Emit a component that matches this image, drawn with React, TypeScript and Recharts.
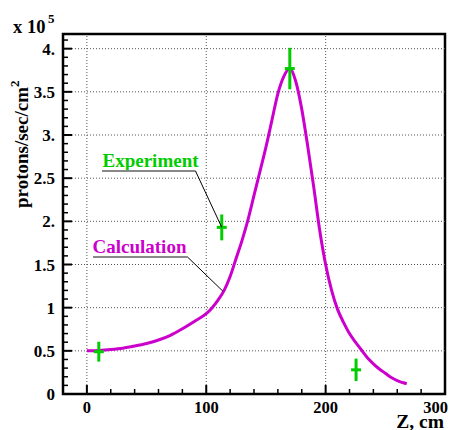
import { ComposedChart, Line, Scatter, ErrorBar, XAxis, YAxis, ReferenceLine, ReferenceArea } from 'recharts';

// calculated flux along Z (x 10^5 protons/sec/cm^2)
const calcZ = [0, 10, 20, 30, 40, 50, 60, 70, 80, 90, 100, 105, 110, 115, 120, 125, 130, 135, 140, 145, 150, 155, 160, 165, 170, 175, 180, 185, 190, 195, 200, 205, 210, 215, 220, 225, 230, 235, 240, 245, 250, 255, 260, 265, 268];
const calcFlux = [0.5, 0.505, 0.515, 0.53, 0.555, 0.585, 0.625, 0.68, 0.755, 0.84, 0.93, 1.0, 1.09, 1.2, 1.36, 1.57, 1.78, 2.02, 2.3, 2.58, 2.86, 3.17, 3.48, 3.68, 3.77, 3.62, 3.3, 2.87, 2.4, 1.9, 1.5, 1.2, 0.98, 0.83, 0.7, 0.6, 0.51, 0.42, 0.35, 0.29, 0.24, 0.19, 0.155, 0.13, 0.12];

// measured points
const expZ = [10, 113, 170, 225.5];
const expFlux = [0.49, 1.93, 3.77, 0.28];
const expErr = [0.115, 0.15, 0.24, 0.13];

const xMajorTicks = [0, 100, 200, 300];
const xTickLabels = ['0', '100', '200', '300'];
const yMajorTicks = [0, 0.5, 1, 1.5, 2, 2.5, 3, 3.5, 4];
const yTickLabels = ['0', '0.5', '1', '1.5', '2.', '2.5', '3.', '3.5', '4.'];
const xGrid = [0, 100, 200];
const yGrid = [0.5, 1, 1.5, 2, 2.5, 3, 3.5, 4];

const X_DOMAIN = [-20, 300];
const Y_DOMAIN = [0, 4.17];

const W = 456;
const H = 430;
const LEFT = 63;
const RIGHT = 11;
const TOP = 34;
const BOTTOM = 36;

const calcData = calcZ.map((z, i) => ({ z, flux: calcFlux[i] }));
const expData = expZ.map((z, i) => ({ z, flux: expFlux[i], err: expErr[i] }));

const xTicks = [...Array.from({ length: 15 }, (_, i) => i * 20), 300];
const yTicks = Array.from({ length: 42 }, (_, i) => i / 10);

const serif = { fontFamily: "'Liberation Serif', Tinos, 'Times New Roman', Times, serif", fontWeight: 700 };
const GREEN = '#00cc00';
const MAGENTA = '#cc00cc';

// pixel helpers for the annotations overlay
const px = (z: number) => LEFT + ((z - X_DOMAIN[0]) / (X_DOMAIN[1] - X_DOMAIN[0])) * (W - LEFT - RIGHT);
const py = (v: number) => TOP + (1 - (v - Y_DOMAIN[0]) / (Y_DOMAIN[1] - Y_DOMAIN[0])) * (H - TOP - BOTTOM);

function XTick(props: any) {
    const { x, y, payload } = props;
    const v = payload.value;
    const idx = xMajorTicks.indexOf(v);
    const major = idx >= 0;
    return (
        <g>
            {v < 300 && (
                <line x1={x} x2={x} y1={y} y2={y - (major ? 9 : 5)} stroke="#000" strokeWidth={major ? 2 : 1.5} />
            )}
            {major && (
                <text
                    x={v === 300 ? x + 3 : x}
                    y={y + 19}
                    textAnchor={v === 300 ? 'end' : 'middle'}
                    style={serif}
                    fontSize={16.5}
                    fill="#000"
                >
                    {xTickLabels[idx]}
                </text>
            )}
        </g>
    );
}

function YTick(props: any) {
    const { x, y, payload } = props;
    const v = payload.value;
    const idx = yMajorTicks.indexOf(v);
    const major = idx >= 0;
    return (
        <g>
            <line x1={x} x2={x + (major ? 9 : 5)} y1={y} y2={y} stroke="#000" strokeWidth={major ? 2 : 1.5} />
            {major && (
                <text x={x - 8} y={y + 6} textAnchor="end" style={serif} fontSize={17} fill="#000">
                    {yTickLabels[idx]}
                </text>
            )}
        </g>
    );
}

function ExpMarker(props: any) {
    const { cx, cy } = props;
    return <line x1={cx - 5} x2={cx + 5} y1={cy} y2={cy} stroke={GREEN} strokeWidth={3} />;
}

export default function App() {
    return (
        <div style={{ position: 'absolute', left: 0, top: 0, width: W, height: H, background: '#fff' }}>
            <ComposedChart width={W} height={H} margin={{ top: TOP, right: RIGHT, bottom: 0, left: 0 }}>
                <XAxis
                    dataKey="z"
                    type="number"
                    domain={X_DOMAIN}
                    allowDataOverflow
                    ticks={xTicks}
                    interval={0}
                    height={BOTTOM}
                    tickSize={0}
                    tickMargin={0}
                    axisLine={false}
                    tickLine={false}
                    tick={<XTick />}
                />
                <YAxis
                    type="number"
                    domain={Y_DOMAIN}
                    allowDataOverflow
                    ticks={yTicks}
                    interval={0}
                    width={LEFT}
                    tickSize={0}
                    tickMargin={0}
                    axisLine={false}
                    tickLine={false}
                    tick={<YTick />}
                />
                {xGrid.map((v) => (
                    <ReferenceLine key={'gx' + v} x={v} stroke="#555" strokeDasharray="1 2" />
                ))}
                {yGrid.map((v) => (
                    <ReferenceLine key={'gy' + v} y={v} stroke="#555" strokeDasharray="1 2" />
                ))}
                <ReferenceArea x1={X_DOMAIN[0]} x2={X_DOMAIN[1]} y1={Y_DOMAIN[0]} y2={Y_DOMAIN[1]} fill="none" stroke="#000" strokeWidth={2.5} />
                <Line
                    data={calcData}
                    dataKey="flux"
                    type="monotone"
                    stroke={MAGENTA}
                    strokeWidth={3}
                    dot={false}
                    isAnimationActive={false}
                />
                <Scatter data={expData} dataKey="flux" shape={<ExpMarker />} isAnimationActive={false}>
                    <ErrorBar dataKey="err" direction="y" width={0} stroke={GREEN} strokeWidth={3} isAnimationActive={false} />
                </Scatter>
            </ComposedChart>

            {/* text and leader lines, ROOT style */}
            <svg width={W} height={H} style={{ position: 'absolute', left: 0, top: 0, pointerEvents: 'none' }}>
                <text x={13} y={32.5} fontSize={18.5} fill="#000" style={serif}>x 10</text>
                <text x={48} y={23} fontSize={13} fill="#000" style={serif}>5</text>

                <text transform="translate(28, 208) rotate(-90)" fontSize={19} fill="#000" style={serif}>
                    protons/sec/cm
                    <tspan dy={-9} fontSize={13}>2</tspan>
                </text>

                <text x={444} y={427.5} textAnchor="end" fontSize={19.5} fill="#000" style={serif}>Z, cm</text>

                <text x={102.5} y={167} fontSize={19} fill={GREEN} style={serif}>Experiment</text>
                <text x={92.5} y={253} fontSize={19} fill={MAGENTA} style={serif}>Calculation</text>

                <line x1={102} x2={195.5} y1={171} y2={171} stroke="#888" strokeWidth={2} />
                <line x1={195.5} y1={171} x2={px(113)} y2={py(1.93)} stroke="#000" strokeWidth={1} />
                <line x1={93} x2={187.5} y1={257} y2={257} stroke="#888" strokeWidth={2} />
                <line x1={187.5} y1={257} x2={px(114)} y2={py(1.19)} stroke="#000" strokeWidth={1} />
            </svg>
        </div>
    );
}
